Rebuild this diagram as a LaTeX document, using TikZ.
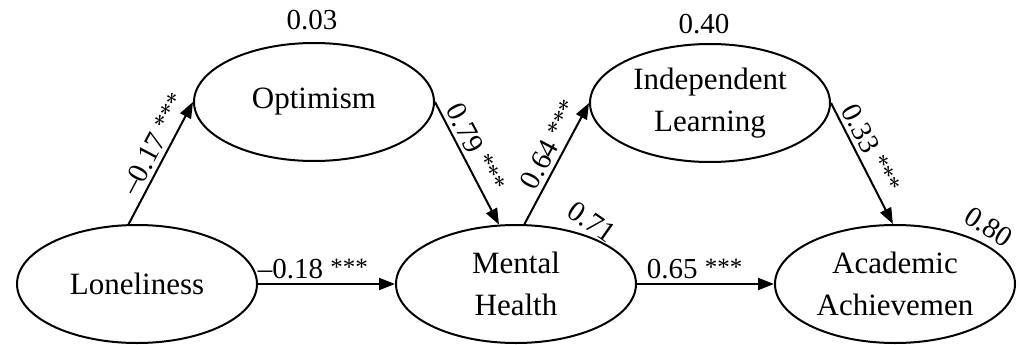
\documentclass[tikz,border=0pt]{standalone}
\usepackage{fontspec}
\setmainfont{Liberation Serif}
\usetikzlibrary{shapes.geometric,arrows.meta}
\newcommand\sigstars{\raisebox{3.5pt}{\fontsize{25}{25}\selectfont ***}}
\begin{document}
\begin{tikzpicture}[x=1pt,y=-1pt,
  latent/.style={ellipse,draw,line width=2pt,minimum width=240pt,minimum height=118pt,inner sep=0pt,align=center,font=\fontsize{31}{42}\selectfont},
  pathedge/.style={line width=2pt,-{Triangle[length=16pt,width=12pt]}},
  lbl/.style={font=\fontsize{29}{32}\selectfont,inner sep=4pt},
]
\useasboundingbox (0,0) rectangle (1020,345);
\node[latent] (lon) at (137,284) {Loneliness};
\node[latent] (opt) at (314,102) {Optimism};
\node[latent] (mh) at (516,284) {Mental\\Health};
\node[latent] (il) at (710,103) {Independent\\Learning};
\node[latent] (aa) at (895,284) {Academic\\Achievemen};

\node[lbl] (r2opt) at (312,20) {0.03};
\node[lbl] (r2il) at (704,24) {0.40};
\node[lbl,rotate=-35] (r2mh) at (592,222) {0.71};
\node[lbl,rotate=-33] (r2aa) at (989,227) {0.80};

\draw[pathedge] (lon.98) -- node[lbl,sloped,above,pos=0.6] {\textendash0.17 \sigstars} (opt.west);
\draw[pathedge] (opt.east) -- node[lbl,sloped,above,pos=0.43] {0.79 \sigstars} (mh.106);
\draw[pathedge] (mh.82) -- node[lbl,sloped,above,pos=0.6] {0.64 \sigstars} (il.west);
\draw[pathedge] (il.east) -- node[lbl,sloped,above,pos=0.43] {0.33 \sigstars} (aa.92);
\draw[pathedge] (lon.east) -- node[lbl,above,pos=0.4] {\textendash0.18 \sigstars} (mh.west);
\draw[pathedge] (mh.east) -- node[lbl,above,pos=0.42] {0.65 \sigstars} (aa.west);
\end{tikzpicture}
\end{document}
